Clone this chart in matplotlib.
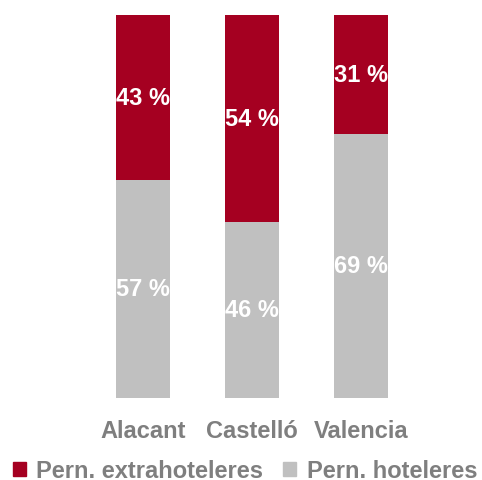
import matplotlib
matplotlib.use("Agg")
import matplotlib.pyplot as plt
from matplotlib.patches import Patch

plt.rcParams['font.family'] = ['Liberation Sans', 'DejaVu Sans']

provincias = ["Alacant", "Castelló", "Valencia"]
hoteleres = [57, 46, 69]
extrahoteleres = [43, 54, 31]
series_names = ["Pern. extrahoteleres", "Pern. hoteleres"]

red = "#a50021"
gray = "#c0c0c0"
text_gray = "#7f7f7f"

fig = plt.figure(figsize=(4.82, 4.81), dpi=100)
ax = fig.add_axes([88.5 / 482, 82 / 481, 327 / 482, 383 / 481])

x = range(len(provincias))
b1 = ax.bar(x, hoteleres, width=0.5, color=gray)
b2 = ax.bar(x, extrahoteleres, width=0.5, bottom=hoteleres, color=red)

for i in x:
    ax.text(i, hoteleres[i] / 2, f"{hoteleres[i]} %", ha="center", va="center",
            color="white", fontsize=17, fontweight="bold")
    ax.text(i, hoteleres[i] + extrahoteleres[i] / 2, f"{extrahoteleres[i]} %",
            ha="center", va="center", color="white", fontsize=17, fontweight="bold")

ax.set_xlim(-0.5, 2.5)
ax.set_ylim(0, 100)
ax.set_xticks(list(x))
ax.set_xticklabels(provincias, fontsize=17, fontweight="bold", color=text_gray)
ax.tick_params(axis="x", length=0, pad=15)
ax.set_yticks([])
for s in ax.spines.values():
    s.set_visible(False)

handles = [Patch(color=red), Patch(color=gray)]
leg = fig.legend(handles, series_names, loc="center",
                 bbox_to_anchor=(0.5 + 4 / 482, 1 - 472 / 481),
                 ncol=2, frameon=False, fontsize=17, handlelength=0.55, handleheight=0.55,
                 handletextpad=0.45, columnspacing=0.85)
for t in leg.get_texts():
    t.set_color(text_gray)
    t.set_fontweight("bold")

plt.savefig("out.png", dpi=100)
plt.close()
